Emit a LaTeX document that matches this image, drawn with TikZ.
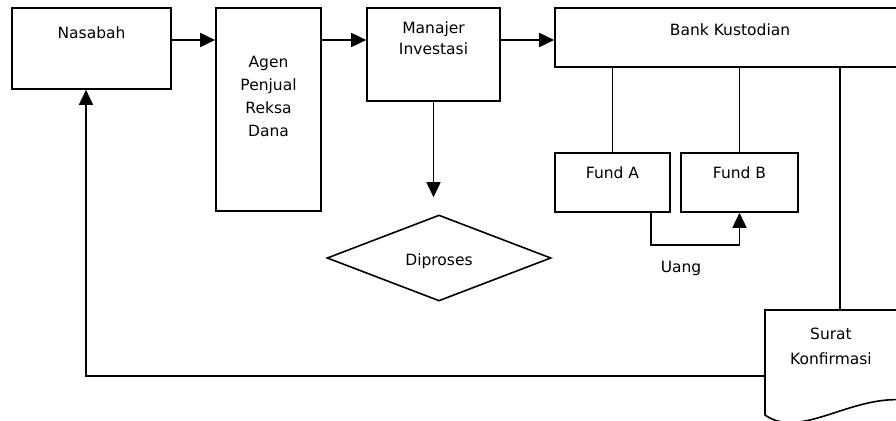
\documentclass[tikz,border=0pt]{standalone}
\usepackage{fontspec}
\setmainfont{DejaVu Sans}
\usetikzlibrary{positioning,shapes.geometric,arrows.meta}
\tikzset{
  box/.style={draw, line width=1.6pt, inner sep=0pt},
  txt/.style={align=center, inner sep=0pt, font=\fontsize{15.5}{23}\selectfont},
  link/.style={line width=1.6pt},
  arr/.style={link, -{Triangle[length=15pt,width=14pt]}},
}
\begin{document}
\begin{tikzpicture}[x=1pt,y=-1pt]
  \useasboundingbox (0,0) rectangle (896,420);
  % boxes
  \node[box, minimum width=159pt, minimum height=81pt] (nasabah) at (91.5,48.5) {};
  \node[box, minimum width=105pt, minimum height=203pt] (agen) at (268.5,109.5) {};
  \node[box, minimum width=133pt, minimum height=93pt] (manajer) at (433.5,54.5) {};
  \node[box, minimum width=350pt, minimum height=59pt] (bank) at (730,37.5) {};
  \node[box, minimum width=115pt, minimum height=59pt] (fundA) at (612.5,182.5) {};
  \node[box, minimum width=117pt, minimum height=59pt] (fundB) at (739.5,182.5) {};
  \node[box, diamond, aspect=2.6, minimum width=224pt, minimum height=86pt] (proses) at (439,258) {};
  \node[minimum width=140pt, minimum height=108pt, inner sep=0pt, anchor=north west] (surat) at (765,310) {};
  \draw[link] (surat.north east) -- (surat.north west) -- (765,415)
    .. controls (800,440) and (850,395) .. (905,400);
  % texts
  \node[txt] (nasabahtxt) at (91.5,33) {Nasabah};
  \node[txt] (agentxt) at (268.5,96) {Agen\\Penjual\\Reksa\\Dana};
  \node[txt, font=\fontsize{15.5}{21}\selectfont] (manajertxt) at (433.5,38) {Manajer\\Investasi};
  \node[txt] (banktxt) at (730,30) {Bank Kustodian};
  \node[txt] (fundAtxt) at (612.5,173) {Fund A};
  \node[txt] (fundBtxt) at (739.5,173) {Fund B};
  \node[txt] (prosestxt) at (439,261) {Diproses};
  \node[txt] (uang) at (681,268) {Uang};
  \node[txt, font=\fontsize{15.5}{25}\selectfont] (surattxt) at (831,346) {Surat\\Konfirmasi};
  % connectors
  \coordinate (flow) at (0,40);
  \coordinate[above=17pt of proses.north] (prosesin);
  \coordinate (suratleft) at (765,376);
  \draw[arr] (nasabah.east |- flow) -- (agen.west |- flow);
  \draw[arr] (agen.east |- flow) -- (manajer.west |- flow);
  \draw[arr] (manajer.east |- flow) -- (bank.west |- flow);
  \draw[arr] (manajer.south) -- (manajer.south |- prosesin);
  \draw[link] (fundA.north) -- (fundA.north |- bank.south);
  \draw[link] (fundB.north) -- (fundB.north |- bank.south);
  \draw[arr] ([xshift=38.5pt]fundA.south) -- ++(0,32) -| (fundB.south);
  \draw[link] (surat.north -| 840,0) -- (bank.south -| 840,0);
  \draw[arr] (suratleft) -| ([xshift=-5.5pt]nasabah.south);
\end{tikzpicture}
\end{document}
